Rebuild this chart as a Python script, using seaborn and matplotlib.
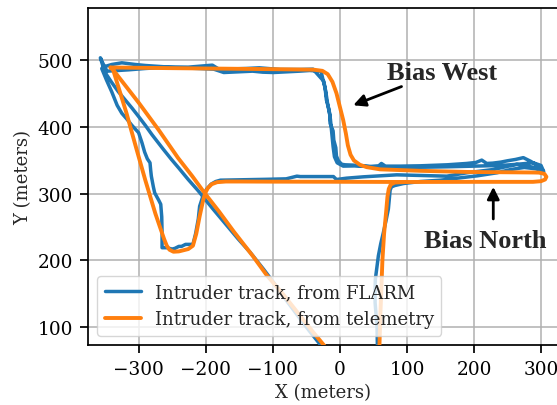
import numpy as np
import pandas as pd
import matplotlib
matplotlib.use("Agg")
import matplotlib.pyplot as plt
import seaborn as sns

# FLARM-reported intruder positions (meters, local frame), in time order
flarm_x = [56, 55.5, 54, 52.6, 52.6, 53, 55, 57.5, 61, 65, 69, 72.4, 74, 75, 77, 82,
           95, 120, 150, 180, 205, 234, 255, 275, 292, 303,
           296, 285, 273.6, 262, 250, 240, 228, 219, 211.6, 203, 189, 160, 120, 90,
           68, 62, 58, 45, 35, 20, 8, 3,
           -2, -5, -6, -9, -10, -14.5, -15, -18, -21, -24,
           -40, -59, -89, -120, -140, -156, -166, -177, -190, -226, -261, -290, -305,
           -325, -340, -350, -355,
           -348, -340, -332, -325, -318, -310, -300, -295, -291, -287, -283, -282,
           -281, -278, -276, -270, -267, -265.5, -265, -265, -258, -250, -246,
           -240, -236, -230, -226, -219, -215, -211, -209, -204, -199, -192, -185,
           -178, -150, -109, -80, -64, -59, -20, -9.5, -5, 10, 35, 60, 85, 120,
           159.5, 189, 229, 263.7, 288.5, 300, 304,
           295, 280, 263.7, 240, 200, 160, 100, 60, 30, 5,
           -4, -8, -10, -12, -14, -16, -20, -22, -25, -28,
           -45, -60, -80, -99, -115, -130, -150, -173, -188, -210, -238, -265,
           -290, -315, -330, -347, -352, -357,
           -353, -348, -340, -330, -320, -310, -300.6, -290, -280, -270, -263,
           -251, -240, -226, -211, -190, -170, -151.5, -133.6, -113.8, -95, -78,
           -59, -45, -31.9, -28]
flarm_y = [74, 100, 120, 137, 160, 172, 187, 207, 225, 242, 260, 277, 295, 305, 310, 312,
           315, 318, 320, 323.5, 326.5, 331, 336, 339, 337, 334,
           341, 348, 353.7, 351, 349, 347, 345.5, 345, 350, 346.5, 345, 343, 341.5, 341,
           341, 345, 341.5, 340.5, 341, 342.5, 343, 343.7,
           348.7, 356, 368.6, 380, 393.5, 405, 418, 433, 453, 468,
           486, 485.5, 485.5, 488, 487, 486.5, 483, 484, 492, 489, 489.5, 491.5, 493,
           495.5, 493, 490, 487,
           470, 452, 432, 420, 412, 402, 391, 376, 362, 352, 346, 335,
           326, 310, 301, 290, 284, 265, 240, 219, 219, 217, 218,
           221, 221, 224, 224, 224, 240, 262, 281, 296.5, 306, 314, 318,
           320, 320.5, 321.3, 322, 326, 325.4, 325.4, 325.4, 321, 323, 325, 326.5, 328, 327,
           326, 331, 336, 343.7, 346, 342, 333,
           338, 341, 343.7, 342, 341, 340, 339, 339, 341.5, 341,
           346, 355, 370, 390, 411, 425, 440, 458, 470, 483,
           484, 483, 482, 481, 481.5, 483, 482, 481, 486, 487, 488, 488.5,
           487, 485, 484, 483, 492, 503,
           490, 478, 466, 452, 440, 428, 416, 402, 388, 375, 366,
           351, 338, 321, 304, 278, 254, 232, 212, 187, 162, 138,
           112.4, 94, 77.6, 73]

# Telemetry track, first leg: north along x~60, the bias loop, back down the diagonal
telem1_x = [59, 60.5, 62, 63.5, 66, 69, 71, 73, 76, 82, 100, 200, 288, 300, 306, 308,
            305, 297, 288, 190, 120, 60, 40, 30, 21, 16, 12, 9, 5, 0, -5, -11, -18,
            -26, -39, -100, -151, -250, -342,
            -338, -300, -270, -241, -220, -201, -180, -158, -130, -109, -85, -59,
            -40, -24, -20]
telem1_y = [70, 120, 160, 200, 240, 272, 295, 307, 313.5, 316.5, 317.3, 317.5, 317.5,
            318.5, 321, 325, 329.5, 331.3, 331.5, 332.3, 334, 336.2, 339.5, 343,
            349.5, 358, 372, 390, 410, 430, 450, 467, 478.5, 483.5, 485.2, 486,
            486.5, 487.5, 488.5,
            485, 436, 395, 353, 326, 300, 273, 243, 207, 178, 150, 117, 93, 73.6, 68]

# Telemetry track, second leg: the southern dogleg rejoining the eastbound pass
telem2_x = [-342, -338, -318, -303, -290, -275, -262, -258, -254, -248, -240, -226,
            -219, -214, -209, -204, -201, -197, -191, -183, -170, -150, -100, 0, 100]
telem2_y = [488.5, 485, 420, 366, 320, 270, 232, 222, 216, 213, 213.5, 217, 222, 240,
            266, 289, 300, 308, 314, 317, 318, 318, 317.8, 317.6, 317.3]

x_ticks = [-300, -200, -100, 0, 100, 200, 300]
y_ticks = [100, 200, 300, 400, 500]

sns.set_theme(style="ticks", context="notebook")
plt.rcParams.update({
    "font.family": ["DejaVu Serif"],
    "axes.edgecolor": "black",
    "axes.linewidth": 1.25,
    "xtick.color": "black",
    "ytick.color": "black",
    "xtick.major.size": 6,
    "ytick.major.size": 6,
    "xtick.major.width": 1.25,
    "ytick.major.width": 1.25,
    "xtick.major.pad": 5,
    "ytick.major.pad": 5,
})

fig = plt.figure(figsize=(5.57, 4.06), dpi=100)
ax = fig.add_axes([88.3 / 557, (406 - 345.7) / 406, 469.5 / 557, 336.4 / 406])

blue = "#1f77b4"
orange = "#ff7f0e"

flarm = pd.DataFrame({"x": flarm_x, "y": flarm_y})
leg1 = pd.DataFrame({"x": telem1_x, "y": telem1_y})
leg2 = pd.DataFrame({"x": telem2_x, "y": telem2_y})

sns.lineplot(data=flarm, x="x", y="y", sort=False, estimator=None, color=blue,
             linewidth=2.5, label="Intruder track, from FLARM", ax=ax, zorder=3)
sns.lineplot(data=leg1, x="x", y="y", sort=False, estimator=None, color=orange,
             linewidth=2.8, label="Intruder track, from telemetry", ax=ax, zorder=4)
sns.lineplot(data=leg2, x="x", y="y", sort=False, estimator=None, color=orange,
             linewidth=2.8, ax=ax, zorder=4, legend=False)

ax.set_xlim(-375, 325)
ax.set_ylim(74, 577)
ax.set_xticks(x_ticks)
ax.set_yticks(y_ticks)
ax.tick_params(labelsize=13.3)
ax.grid(True, color="#b0b0b0", linewidth=1.1)
ax.set_axisbelow(True)
for side in ["top", "right"]:
    ax.spines[side].set_visible(True)

ax.set_xlabel("X (meters)", fontsize=13)
ax.set_ylabel("Y (meters)", fontsize=13)

arrow = dict(arrowstyle="-|>", color="black", lw=2, mutation_scale=18,
             shrinkA=0, shrinkB=0)
ax.annotate("", xy=(20, 432), xytext=(92, 460), arrowprops=arrow, zorder=6)
ax.text(151.7, 470.6, "Bias West", ha="center", va="baseline", fontsize=19,
        fontweight="bold", family=["Liberation Serif", "DejaVu Serif"], zorder=6)
ax.annotate("", xy=(228.8, 310), xytext=(228.8, 262), arrowprops=arrow, zorder=6)
ax.text(216.5, 219.4, "Bias North", ha="center", va="baseline", fontsize=19,
        fontweight="bold", family=["Liberation Serif", "DejaVu Serif"], zorder=6)

ax.legend(loc="lower left", fontsize=13, framealpha=0.8)

fig.savefig("out.png", dpi=100)
